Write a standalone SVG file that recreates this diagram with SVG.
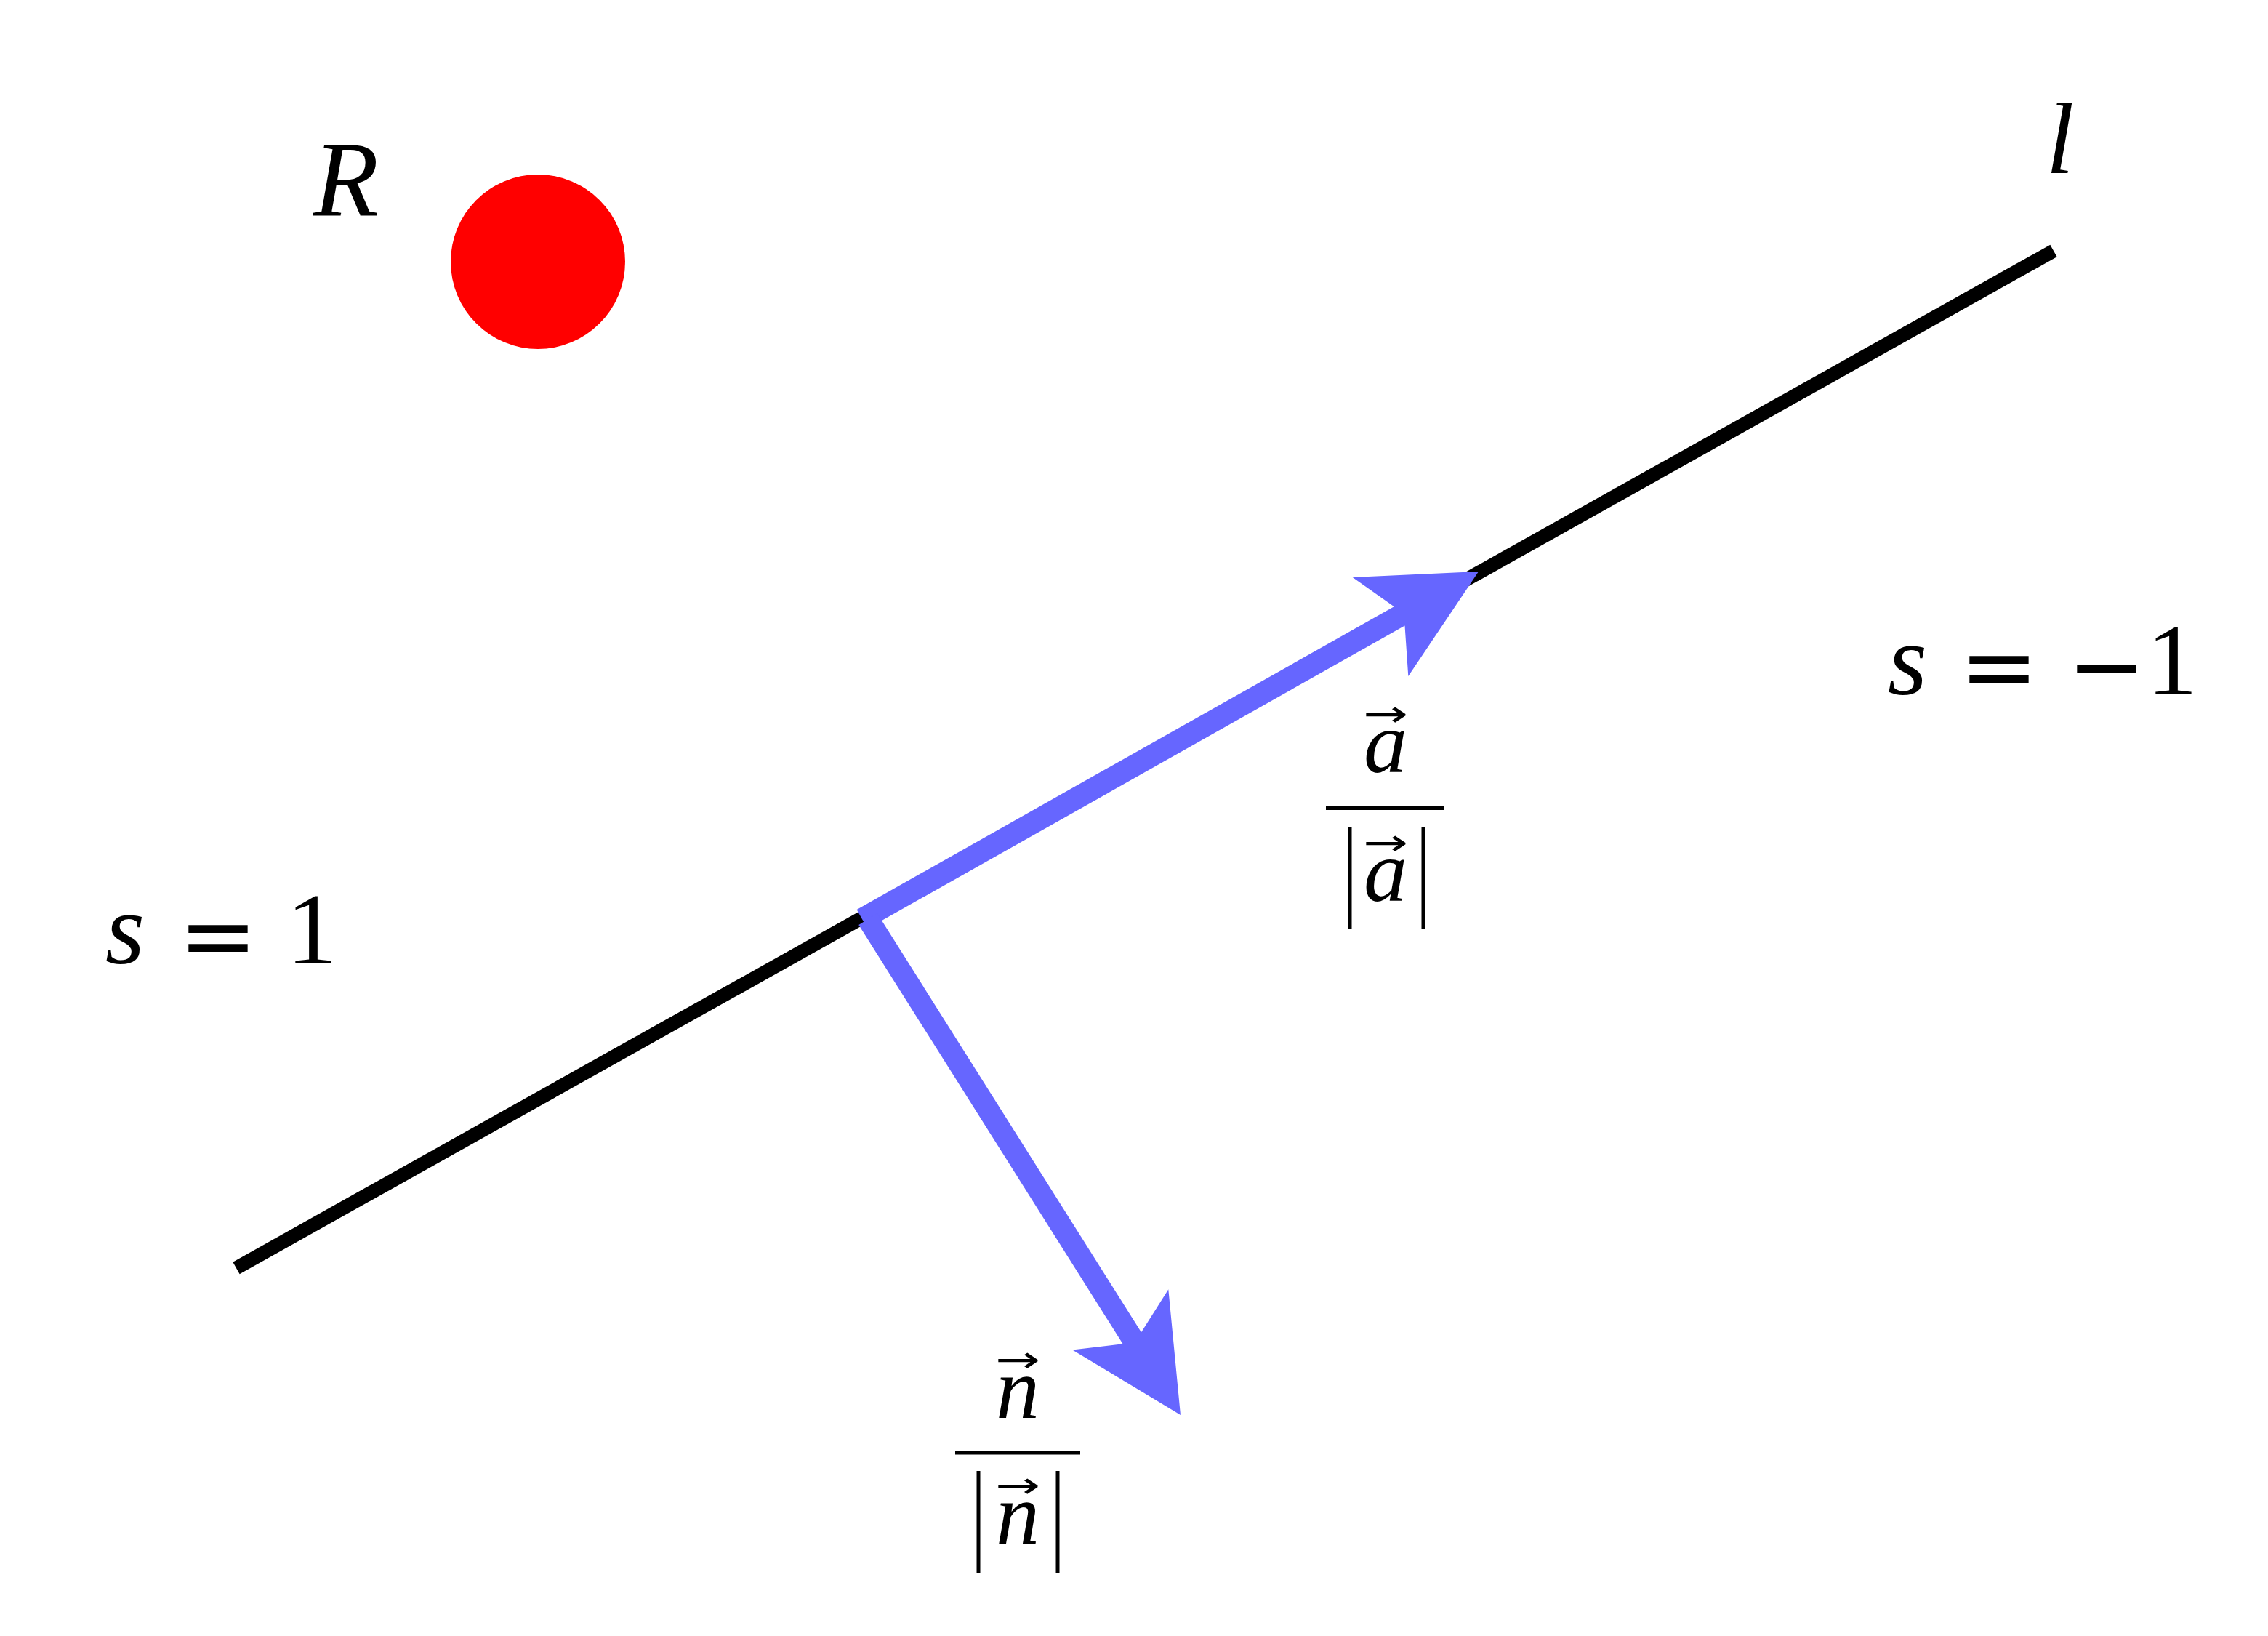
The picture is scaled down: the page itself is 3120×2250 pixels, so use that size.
<svg xmlns="http://www.w3.org/2000/svg" width="3120" height="2250" viewBox="0 0 3120 2250">
<style>
.m{font-family:"Liberation Serif","Times New Roman",serif;fill:#000}
.i{font-style:italic}
.op{font-family:"DejaVu Sans",sans-serif;font-size:130px}
.vec{font-family:"DejaVu Sans",sans-serif;font-size:50px;fill:#000}
.rule{stroke:#000;stroke-width:5;fill:none}
.blue{fill:#6666ff;stroke:none}
</style>
<rect width="3120" height="2250" fill="#ffffff"/>
<g id="line-l">
<line x1="325" y1="1744" x2="2825" y2="345" stroke="#000" stroke-width="19"/>
</g>
<g id="connectors">
<polygon id="vec-a" class="blue" points="1178.6,1250.9 1917.7,834.3 1860.7,794.1 2034,786 1937.3,930.1 1932.5,860.5 1193.4,1277.1"/>
<polygon id="vec-n" class="blue" points="1181.3,1272.0 1544.6,1848.3 1475.3,1856.5 1624,1946 1607.3,1773.3 1570,1832.3 1206.7,1256.0"/>
</g>
<g id="node-R">
<circle cx="740" cy="360" r="120" fill="#ff0000"/>
</g>
<g id="label-R">
<text class="m i" x="476" y="297" font-size="148" text-anchor="middle">R</text>
</g>
<g id="label-l">
<text class="m i" x="2834" y="238" font-size="140" text-anchor="middle">l</text>
</g>
<g id="label-s-minus1">
<text class="m" y="955" font-size="140"><tspan class="i" x="2624" y="955" text-anchor="middle">s</tspan><tspan class="op" x="2750" y="961" text-anchor="middle">=</tspan><tspan class="op" x="2898" y="961" text-anchor="middle">−</tspan><tspan x="2988" y="955" text-anchor="middle">1</tspan></text>
</g>
<g id="label-s-1">
<text class="m" y="1325" font-size="140"><tspan class="i" x="172" y="1325" text-anchor="middle">s</tspan><tspan class="op" x="300" y="1331" text-anchor="middle">=</tspan><tspan x="429" y="1325" text-anchor="middle">1</tspan></text>
</g>
<g id="label-a-frac">
<text class="vec" x="1906" y="999" text-anchor="middle" textLength="62" lengthAdjust="spacingAndGlyphs">→</text>
<text class="m i" x="1906" y="1062" font-size="120" text-anchor="middle">a</text>
<line class="rule" x1="1824" y1="1111.5" x2="1987" y2="1111.5"/>
<line class="rule" x1="1857" y1="1137" x2="1857" y2="1277"/>
<line class="rule" x1="1958" y1="1137" x2="1958" y2="1277"/>
<text class="vec" x="1906" y="1176" text-anchor="middle" textLength="62" lengthAdjust="spacingAndGlyphs">→</text>
<text class="m i" x="1906" y="1239" font-size="120" text-anchor="middle">a</text>
</g>
<g id="label-n-frac">
<text class="vec" x="1400" y="1887" text-anchor="middle" textLength="62" lengthAdjust="spacingAndGlyphs">→</text>
<text class="m i" x="1400" y="1950" font-size="120" text-anchor="middle">n</text>
<line class="rule" x1="1314" y1="1998" x2="1486" y2="1998" stroke-width="6"/>
<line class="rule" x1="1346" y1="2023" x2="1346" y2="2163"/>
<line class="rule" x1="1455" y1="2023" x2="1455" y2="2163"/>
<text class="vec" x="1400" y="2060" text-anchor="middle" textLength="62" lengthAdjust="spacingAndGlyphs">→</text>
<text class="m i" x="1400" y="2123" font-size="120" text-anchor="middle">n</text>
</g>
</svg>
